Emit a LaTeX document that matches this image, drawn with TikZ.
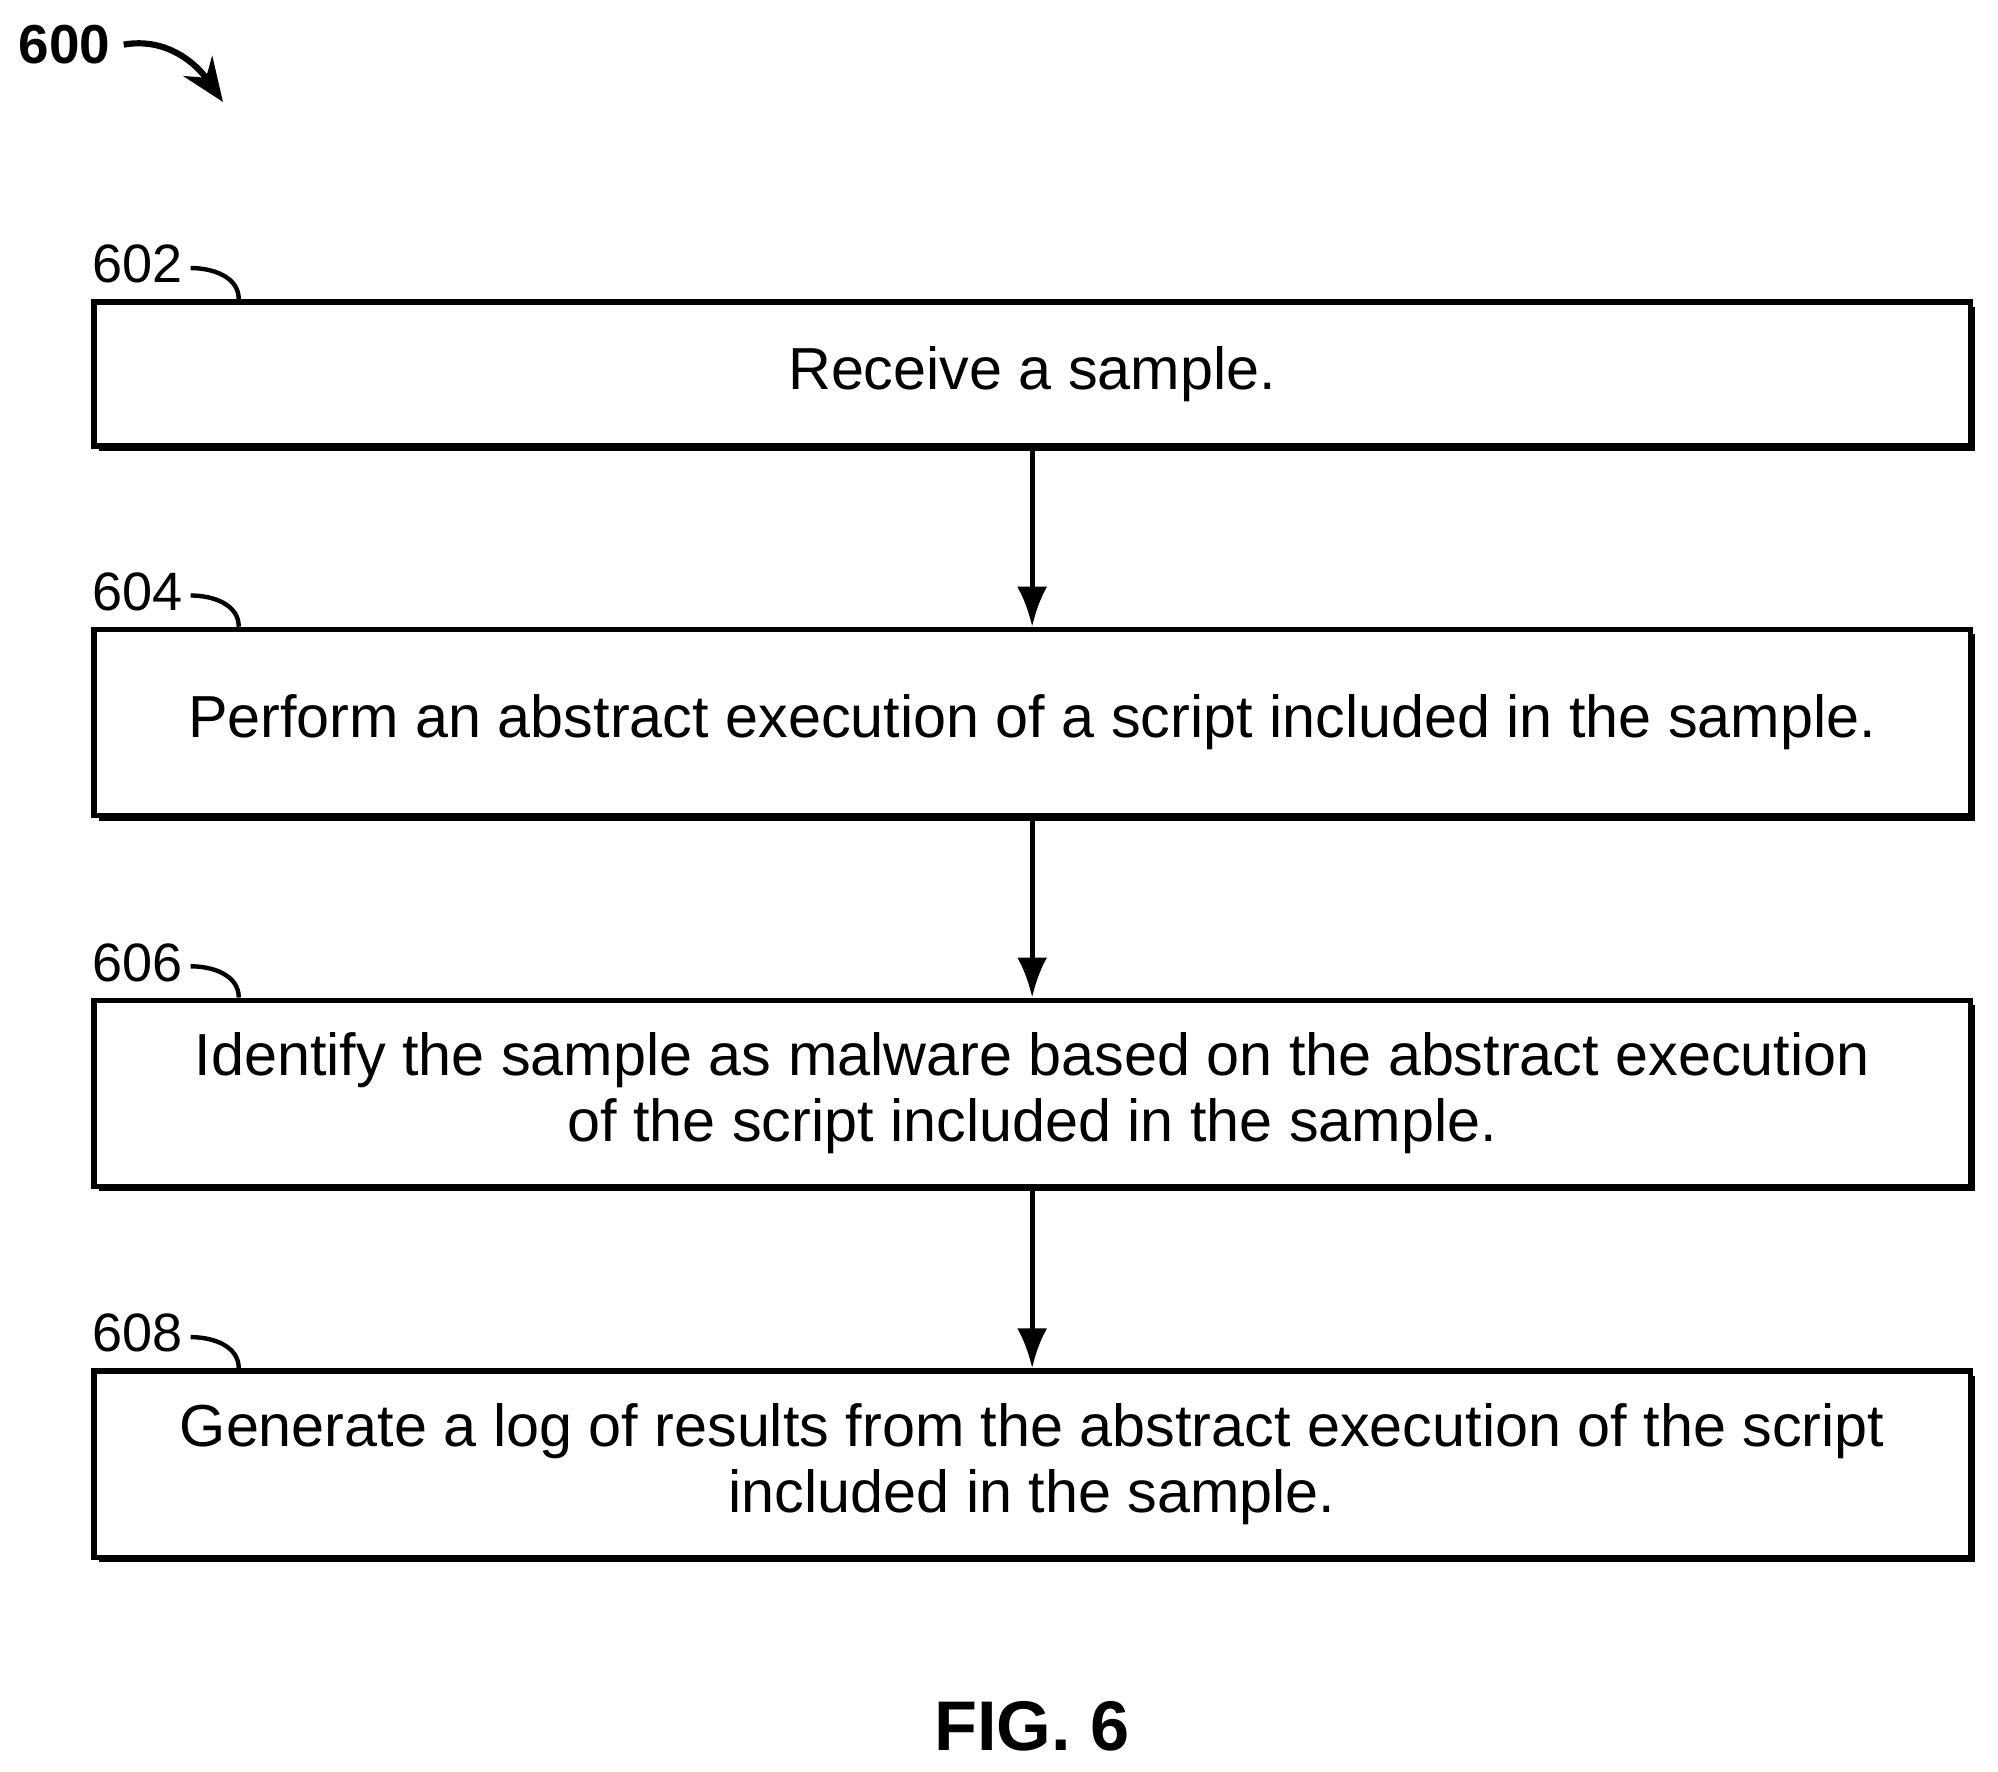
\documentclass[tikz,border=0pt]{standalone}
\usepackage{fontspec}
\setmainfont{Liberation Sans}
\usetikzlibrary{arrows.meta, positioning, shadows}
\tikzset{
  flowbox/.style={rectangle, draw=black, line width=1.2pt, fill=white, minimum width=15.01cm, align=center, font=\fontsize{13.5}{15}\selectfont, inner sep=2pt,
    drop shadow={shadow xshift=0.04cm, shadow yshift=-0.04cm, fill=black, opacity=1}},
  ref/.style={font=\fontsize{12.3}{14}\selectfont, inner sep=0pt, anchor=south west},
  arrow/.style={line width=1.2pt, -{Latex[length=3.2mm, width=2.4mm]}},
  hook/.style={line width=1pt}
}
\begin{document}
\begin{tikzpicture}[x=0.0102cm, y=-0.0102cm]
\useasboundingbox (0,0) rectangle (1568,1390);
% Steps
\node (s602) [flowbox, minimum height=1.153cm] at (810,293.5) {Receive a sample.};
\node (s604) [flowbox, minimum height=1.49cm] at (810,567) {Perform an abstract execution of a script included in the sample.};
\node (s606) [flowbox, minimum height=1.49cm] at (810,858) {Identify the sample as malware based on the abstract execution\\ of the script included in the sample.};
\node (s608) [flowbox, minimum height=1.49cm] at (810,1149) {Generate a log of results from the abstract execution of the script\\ included in the sample.};
% Reference numerals
\foreach \n in {602,604,606,608} {
  \node (l\n) [ref] at ([xshift=0cm, yshift=0.12cm]s\n.north west) {\n};
  \draw [hook] ([xshift=0.06cm, yshift=-0.03cm]l\n.east) to[out=0, in=90] ([xshift=1.18cm]s\n.north west);
}
% Arrows
\draw [arrow] (s602) -- (s604);
\draw [arrow] (s604) -- (s606);
\draw [arrow] (s606) -- (s608);
% Figure number
\node (fig) [font=\bfseries\fontsize{12.5}{14}\selectfont, inner sep=0pt, anchor=west] at (14,35) {600};
\coordinate (figtip) at (175,80);
\draw [line width=1.4pt, -{Stealth[length=3.5mm, width=2.8mm]}] ([xshift=0.1cm]fig.east) to[out=10, in=125] (figtip);
\node (caption) [font=\bfseries\fontsize{16}{19}\selectfont] at (810,1355) {FIG. 6};
\end{tikzpicture}
\end{document}
